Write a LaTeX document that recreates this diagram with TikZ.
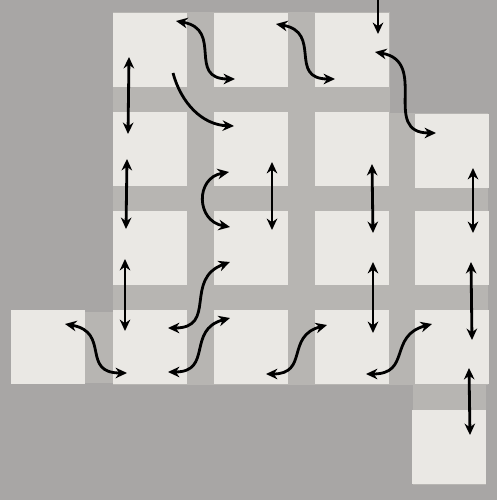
\documentclass[tikz,border=0pt]{standalone}
\usepackage{xcolor}
\usepackage{tikz}
\usetikzlibrary{arrows.meta,positioning,calc}
\definecolor{paper}{HTML}{A8A6A5}
\definecolor{band}{HTML}{B7B5B2}
\definecolor{tile}{HTML}{EAE8E4}

\begin{document}
\begin{tikzpicture}[x=0.2mm, y=-0.2mm,
  cell/.style={fill=tile, minimum size=1.48cm, inner sep=0pt, outer sep=0pt},
  link/.style={line width=1.6pt, {Stealth[length=6.5pt,width=6pt]}-{Stealth[length=6.5pt,width=6pt]}},
  push/.style={line width=1.6pt, -{Stealth[length=6.5pt,width=6pt]}},
  ]
  % paper and the grid bands
  \fill[paper] (0,0) rectangle (497,500);
  \useasboundingbox (0,0) rectangle (497,500);
  \fill[band] (113,12) rectangle (390,385);
  \fill[band] (390,113) rectangle (488,385);
  \fill[band] (413,385) rectangle (486,485);
  \fill[band] (83,312) rectangle (113,383);

  % tiles, row by row
  \node[cell] (s01) at (150,50) {};
  \node[cell] (s02) at (251,50) {};
  \node[cell] (s03) at (352,50) {};
  \node[cell] (s11) at (150,149) {};
  \node[cell] (s12) at (251,149) {};
  \node[cell] (s13) at (352,149) {};
  \node[cell] (s14) at (452,151) {};
  \node[cell] (s21) at (150,248) {};
  \node[cell] (s22) at (251,248) {};
  \node[cell] (s23) at (352,248) {};
  \node[cell] (s24) at (452,248) {};
  \node[cell] (s30) at (48,347) {};
  \node[cell] (s31) at (150,347) {};
  \node[cell] (s32) at (251,347) {};
  \node[cell] (s33) at (352,347) {};
  \node[cell] (s34) at (452,347) {};
  \node[cell] (s44) at (449,447) {};

  % arrow ends
  \coordinate (in0) at (378,0);    \coordinate (in1) at (378,34);
  \coordinate (a1) at (176,21);    \coordinate (a2) at (235,79);
  \coordinate (b1) at (276,24);    \coordinate (b2) at (335,79);
  \coordinate (c1) at (375,52);    \coordinate (c2) at (436,133);
  \coordinate (d1) at (173,73);    \coordinate (d2) at (234,126);
  \coordinate (e1) at (229,172);   \coordinate (e2) at (230,227);
  \coordinate (v1) at (129,57);    \coordinate (v2) at (128,134);
  \coordinate (v3) at (127,159);   \coordinate (v4) at (126,229);
  \coordinate (v5) at (125,259);   \coordinate (v6) at (125,331);
  \coordinate (v7) at (272,162);   \coordinate (v8) at (272,230);
  \coordinate (v9) at (372,164);   \coordinate (v10) at (373,233);
  \coordinate (v11) at (373,262);  \coordinate (v12) at (373,333);
  \coordinate (v13) at (473,168);  \coordinate (v14) at (473,233);
  \coordinate (v15) at (471,262);  \coordinate (v16) at (472,340);
  \coordinate (v17) at (469,368);  \coordinate (v18) at (470,435);
  \coordinate (f1) at (168,328);   \coordinate (f2) at (230,262);
  \coordinate (g1) at (65,324);    \coordinate (g2) at (127,373);
  \coordinate (h1) at (168,372);   \coordinate (h2) at (230,318);
  \coordinate (k1) at (266,374);   \coordinate (k2) at (327,325);
  \coordinate (m1) at (366,374);   \coordinate (m2) at (432,324);

  % moves
  \draw[push] (in0) -- (in1);
  \draw[link] (a1) to[out=-10, in=180, looseness=1.5] (a2);
  \draw[link] (b1) to[out=-10, in=180, looseness=1.5] (b2);
  \draw[link] (c1) to[out=-10, in=180, looseness=1.4] (c2);
  \draw[push] (d1) to[out=-75, in=178] (d2);
  \draw[link] (e1) to[out=190, in=170, looseness=1.6] (e2);
  \draw[link] (v1) -- (v2);
  \draw[link] (v3) -- (v4);
  \draw[link] (v5) -- (v6);
  \draw[link] (v7) -- (v8);
  \draw[link] (v9) -- (v10);
  \draw[link] (v11) -- (v12);
  \draw[link] (v13) -- (v14);
  \draw[link] (v15) -- (v16);
  \draw[link] (v17) -- (v18);
  \draw[link] (f1) to[out=0, in=200, looseness=1.4] (f2);
  \draw[link] (g1) to[out=-10, in=180, looseness=1.5] (g2);
  \draw[link] (h1) to[out=0, in=195, looseness=1.4] (h2);
  \draw[link] (k1) to[out=0, in=195, looseness=1.4] (k2);
  \draw[link] (m1) to[out=0, in=195, looseness=1.4] (m2);
\end{tikzpicture}
\end{document}
